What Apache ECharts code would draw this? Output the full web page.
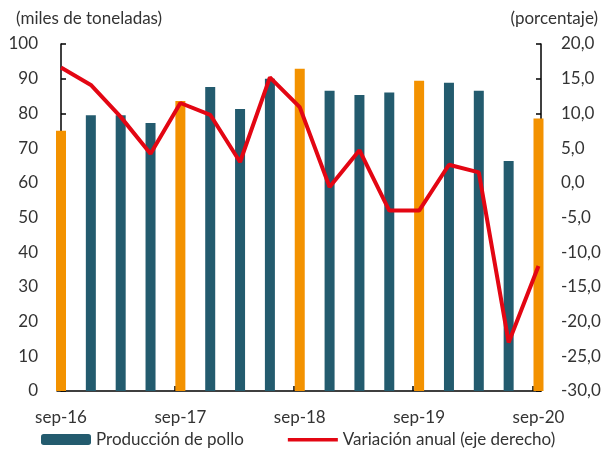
<!DOCTYPE html>
<html>
<head>
<meta charset="utf-8">
<script src="https://cdn.jsdelivr.net/npm/echarts@6/dist/echarts.min.js"></script>
<style>
  html, body { margin: 0; padding: 0; background: #fff; }
  #chart { width: 607px; height: 455px; }
</style>
</head>
<body>
<div id="chart"></div>
<script>
var quarters = ['sep-16', 'dic-16', 'mar-17', 'jun-17', 'sep-17', 'dic-17', 'mar-18', 'jun-18',
  'sep-18', 'dic-18', 'mar-19', 'jun-19', 'sep-19', 'dic-19', 'mar-20', 'jun-20', 'sep-20'];
var produccion = [75, 79.5, 79.5, 77.2, 83.6, 87.6, 81.3, 90, 92.9, 86.5, 85.3, 86, 89.4, 88.8, 86.5, 66.3, 78.5];
var variacion = [16.6, 14.1, 9.5, 4.2, 11.5, 9.8, 3.0, 15.2, 10.9, -0.6, 4.7, -4.0, -4.0, 2.6, 1.5, -23.0, -12.0];
var tickLabels = [0, 4, 8, 12, 16];

var teal = '#235B6E';
var orange = '#F39200';
var red = '#E30613';
var font = 'Lato';
var fs = 17;

var chart = echarts.init(document.getElementById('chart'));

var option = {
  textStyle: { fontFamily: font },
  animation: false,
  title: [
    { text: '(miles de toneladas)', left: 11, top: 5,
      textStyle: { fontFamily: font, fontSize: fs, fontWeight: 'normal', color: '#333' } },
    { text: '(porcentaje)', right: 4, top: 5,
      textStyle: { fontFamily: font, fontSize: fs, fontWeight: 'normal', color: '#333' } }
  ],
  legend: {
    bottom: 2,
    left: 36,
    itemWidth: 50,
    itemHeight: 11,
    itemGap: 44,
    textStyle: { fontFamily: font, fontSize: fs, color: '#333' },
    data: [
      'Producción de pollo',
      { name: 'Variación anual (eje derecho)',
        icon: 'path://M0,0L0.05,0L0.05,0.05Z M0,4L50,4L50,7.5L0,7.5Z M0,11L0.05,11L0.05,10.95Z' }
    ]
  },
  grid: { left: 57, right: 66, top: 44, bottom: 64, outerBoundsMode: 'none' },
  xAxis: {
    type: 'value',
    min: -0.134,
    max: 16.084,
    splitLine: { show: false },
    axisLine: { show: true, lineStyle: { color: '#000', width: 1.5 } },
    axisTick: { show: true, inside: true, length: 5, customValues: [3.8, 7.8, 11.8, 15.8],
      lineStyle: { color: '#000', width: 1.5 } },
    axisLabel: {
      customValues: tickLabels,
      formatter: function (v) { return quarters[Math.round(v)]; },
      fontSize: fs, color: '#333', margin: 18
    }
  },
  yAxis: [
    {
      type: 'value', min: 0, max: 100, interval: 10,
      splitLine: { show: false },
      axisLine: { show: true, lineStyle: { color: '#000', width: 1.5 } },
      axisTick: { show: true, inside: true, length: 5, lineStyle: { color: '#000', width: 1.5 } },
      axisLabel: { fontSize: fs, color: '#333', margin: 19 }
    },
    {
      type: 'value', min: -30, max: 20, interval: 5,
      splitLine: { show: false },
      axisLine: { show: true, lineStyle: { color: '#000', width: 1.5 } },
      axisTick: { show: true, inside: true, length: 5, lineStyle: { color: '#000', width: 1.5 } },
      axisLabel: {
        fontSize: fs, color: '#333', margin: 20,
        formatter: function (v) { return v.toFixed(1).replace('.', ','); }
      }
    }
  ],
  series: [
    {
      name: 'Producción de pollo',
      type: 'bar',
      barWidth: 10,
      itemStyle: { color: teal },
      data: produccion.map(function (v, i) {
        return {
          value: [i, v],
          itemStyle: { color: quarters[i].indexOf('sep') === 0 ? orange : teal }
        };
      })
    },
    {
      name: 'Variación anual (eje derecho)',
      type: 'line',
      yAxisIndex: 1,
      symbol: 'none',
      lineStyle: { color: red, width: 4 },
      itemStyle: { color: red },
      data: variacion.map(function (v, i) { return [i, v]; })
    }
  ]
};

chart.setOption(option);
</script>
</body>
</html>
